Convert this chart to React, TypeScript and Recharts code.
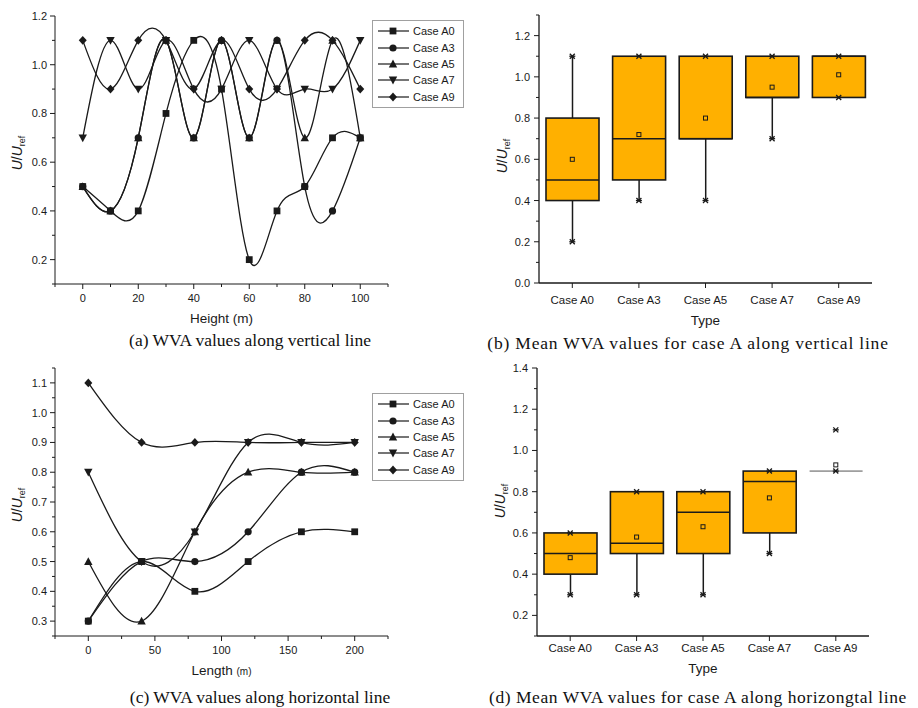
import { ComposedChart, LineChart, Line, Bar, Scatter, XAxis, YAxis, Legend } from "recharts";

const sans = "'Liberation Sans', Arial, sans-serif";
const serif = "'Liberation Serif', 'Times New Roman', serif";
const ink = "#1a1a1a";
const boxFill = "#FFB000";

const caseKeys = ["A0", "A3", "A5", "A7", "A9"];
const caseNames = ["Case A0", "Case A3", "Case A5", "Case A7", "Case A9"];
const markerKinds = ["square", "circle", "triangleUp", "triangleDown", "diamond"];

// (a) WVA along the vertical line
const heights = [0, 10, 20, 30, 40, 50, 60, 70, 80, 90, 100];
const verticalA0 = [0.5, 0.4, 0.4, 0.8, 1.1, 0.9, 0.2, 0.4, 0.5, 0.7, 0.7];
const verticalA3 = [0.5, 0.4, 0.7, 1.1, 0.7, 1.1, 0.7, 1.1, 0.5, 0.4, 0.7];
const verticalA5 = [0.5, 0.4, 0.7, 1.1, 0.7, 1.1, 0.7, 1.1, 0.7, 1.1, 0.7];
const verticalA7 = [0.7, 1.1, 0.9, 1.1, 0.9, 0.9, 1.1, 0.9, 0.9, 0.9, 1.1];
const verticalA9 = [1.1, 0.9, 1.1, 1.1, 0.9, 1.1, 0.9, 0.9, 1.1, 1.1, 0.9];
const heightTicks = [-10, 0, 10, 20, 30, 40, 50, 60, 70, 80, 90, 100, 110];
const verticalYTicks = [0.1, 0.2, 0.3, 0.4, 0.5, 0.6, 0.7, 0.8, 0.9, 1.0, 1.1, 1.2];

// (c) WVA along the horizontal line
const lengths = [0, 40, 80, 120, 160, 200];
const horizontalA0 = [0.3, 0.5, 0.4, 0.5, 0.6, 0.6];
const horizontalA3 = [0.3, 0.5, 0.5, 0.6, 0.8, 0.8];
const horizontalA5 = [0.5, 0.3, 0.6, 0.8, 0.8, 0.8];
const horizontalA7 = [0.8, 0.5, 0.6, 0.9, 0.9, 0.9];
const horizontalA9 = [1.1, 0.9, 0.9, 0.9, 0.9, 0.9];
const lengthTicks = [-25, 0, 25, 50, 75, 100, 125, 150, 175, 200, 225];
const horizontalYTicks = [0.25, 0.3, 0.35, 0.4, 0.45, 0.5, 0.55, 0.6, 0.65, 0.7, 0.75, 0.8, 0.85, 0.9, 0.95, 1.0, 1.05, 1.1, 1.15];

// (b) box statistics, vertical line
const vMin = [0.2, 0.4, 0.4, 0.7, 0.9];
const vQ1 = [0.4, 0.5, 0.7, 0.9, 0.9];
const vMedian = [0.5, 0.7, 0.7, 0.9, 1.1];
const vQ3 = [0.8, 1.1, 1.1, 1.1, 1.1];
const vMax = [1.1, 1.1, 1.1, 1.1, 1.1];
const vWhiskerHigh = [1.1, 1.1, 1.1, 1.1, 1.1];
const vMean = [0.6, 0.72, 0.8, 0.95, 1.01];
const vBoxTicks = [0, 0.1, 0.2, 0.3, 0.4, 0.5, 0.6, 0.7, 0.8, 0.9, 1.0, 1.1, 1.2, 1.3];

// (d) box statistics, horizontal line
const hMin = [0.3, 0.3, 0.3, 0.5, 0.9];
const hQ1 = [0.4, 0.5, 0.5, 0.6, 0.9];
const hMedian = [0.5, 0.55, 0.7, 0.85, 0.9];
const hQ3 = [0.6, 0.8, 0.8, 0.9, 0.9];
const hMax = [0.6, 0.8, 0.8, 0.9, 1.1];
const hWhiskerHigh = [0.6, 0.8, 0.8, 0.9, 0.9];
const hMean = [0.48, 0.58, 0.63, 0.77, 0.93];
const hBoxTicks = [0.1, 0.2, 0.3, 0.4, 0.5, 0.6, 0.7, 0.8, 0.9, 1.0, 1.1, 1.2, 1.3, 1.4];

function toRows(xs: number[], series: number[][]) {
  return xs.map((x, i) => {
    const row: Record<string, number> = { x };
    caseKeys.forEach((k, j) => (row[k] = series[j][i]));
    return row;
  });
}

function toBoxRows(min: number[], q1: number[], med: number[], q3: number[], max: number[], wHigh: number[], mean: number[]) {
  return caseNames.map((name, i) => ({
    name,
    min: min[i],
    q1: q1[i],
    median: med[i],
    q3: q3[i],
    max: max[i],
    whiskerHigh: wHigh[i],
    mean: mean[i],
  }));
}

const verticalRows = toRows(heights, [verticalA0, verticalA3, verticalA5, verticalA7, verticalA9]);
const horizontalRows = toRows(lengths, [horizontalA0, horizontalA3, horizontalA5, horizontalA7, horizontalA9]);
const verticalBoxes = toBoxRows(vMin, vQ1, vMedian, vQ3, vMax, vWhiskerHigh, vMean);
const horizontalBoxes = toBoxRows(hMin, hQ1, hMedian, hQ3, hMax, hWhiskerHigh, hMean);

function Marker({ kind, cx, cy }: { kind: string; cx: number; cy: number }) {
  const s = 3.4;
  switch (kind) {
    case "square":
      return <rect x={cx - s} y={cy - s} width={2 * s} height={2 * s} fill={ink} />;
    case "circle":
      return <circle cx={cx} cy={cy} r={s + 0.2} fill={ink} />;
    case "triangleUp":
      return <polygon points={`${cx},${cy - s - 1} ${cx + s + 0.8},${cy + s} ${cx - s - 0.8},${cy + s}`} fill={ink} />;
    case "triangleDown":
      return <polygon points={`${cx},${cy + s + 1} ${cx + s + 0.8},${cy - s} ${cx - s - 0.8},${cy - s}`} fill={ink} />;
    default:
      return <polygon points={`${cx},${cy - s - 1} ${cx + s + 0.6},${cy} ${cx},${cy + s + 1} ${cx - s - 0.6},${cy}`} fill={ink} />;
  }
}

function CaseLegend({ payload }: any) {
  return (
    <div style={{ border: "1px solid #a0a0a0", background: "#fff", width: 92, padding: "2px 0", boxSizing: "border-box" }}>
      {(payload || []).map((p: any) => {
        const kind = markerKinds[caseNames.indexOf(p.value)];
        return (
          <div key={p.value} style={{ display: "flex", alignItems: "center", height: 16.4 }}>
            <svg width={40} height={14} style={{ flex: "none" }}>
              <line x1={5} x2={36} y1={7} y2={7} stroke={ink} strokeWidth={1.2} />
              <Marker kind={kind} cx={20} cy={7} />
            </svg>
            <span style={{ fontFamily: sans, fontSize: 11, color: ink, whiteSpace: "nowrap" }}>{p.value}</span>
          </div>
        );
      })}
    </div>
  );
}

function makeYTick(isMajor: (v: number) => boolean, gap: number) {
  return (props: any) => {
    const { x, y, payload } = props;
    const major = isMajor(payload.value);
    return (
      <g>
        <line x1={x} x2={x - (major ? 5 : 3)} y1={y} y2={y} stroke={ink} />
        {major && (
          <text x={x - gap} y={y + 4} textAnchor="end" fontFamily={sans} fontSize={11} fill={ink}>
            {payload.value.toFixed(1)}
          </text>
        )}
      </g>
    );
  };
}

function makeXTick(isMajor: (v: any) => boolean, drop: number, fontSize: number) {
  return (props: any) => {
    const { x, y, payload } = props;
    const major = isMajor(payload.value);
    return (
      <g>
        <line x1={x} x2={x} y1={y} y2={y + (major ? 5 : 3)} stroke={ink} />
        {major && (
          <text x={x} y={y + drop} textAnchor="middle" fontFamily={sans} fontSize={fontSize} fill={ink}>
            {payload.value}
          </text>
        )}
      </g>
    );
  };
}

function YTitle({ viewBox, dx, dy }: any) {
  const cx = viewBox.x + dx;
  const cy = viewBox.y + viewBox.height / 2 + dy;
  return (
    <text x={cx} y={cy} transform={`rotate(-90 ${cx} ${cy})`} textAnchor="middle" fontFamily={sans} fontSize={14} fill={ink}>
      <tspan fontStyle="italic">U</tspan>
      <tspan>/</tspan>
      <tspan fontStyle="italic">U</tspan>
      <tspan fontSize={9} dy={3}>ref</tspan>
    </text>
  );
}

function XTitle({ viewBox, dy, text, unit }: any) {
  return (
    <text x={viewBox.x + viewBox.width / 2} y={viewBox.y + dy} textAnchor="middle" fontFamily={sans} fontSize={13.5} fill={ink}>
      {text}
      {unit && <tspan fontSize={10}>{unit}</tspan>}
    </text>
  );
}

function BoxShape(props: any) {
  const { x, y, width, height, payload } = props;
  const { min, max, q1, q3, median, whiskerHigh } = payload;
  const top = Math.min(y, y + height);
  const k = Math.abs(height) / (max - min);
  const py = (v: number) => top + (max - v) * k;
  const cx = x + width / 2;
  return (
    <g>
      {min < q1 && <line x1={cx} x2={cx} y1={py(min)} y2={py(q1)} stroke={ink} strokeWidth={1.5} />}
      {whiskerHigh > q3 && <line x1={cx} x2={cx} y1={py(whiskerHigh)} y2={py(q3)} stroke={ink} strokeWidth={1.5} />}
      {q3 > q1 && <rect x={x} y={py(q3)} width={width} height={py(q1) - py(q3)} fill={boxFill} stroke={ink} strokeWidth={1.6} />}
      <line x1={x} x2={x + width} y1={py(median)} y2={py(median)} stroke={q3 > q1 ? ink : "#555"} strokeWidth={q3 > q1 ? 1.5 : 1} />
    </g>
  );
}

function Extreme({ cx, cy }: any) {
  return (
    <g stroke={ink} strokeWidth={1.3}>
      <line x1={cx - 2.5} y1={cy - 2.5} x2={cx + 2.5} y2={cy + 2.5} />
      <line x1={cx - 2.5} y1={cy + 2.5} x2={cx + 2.5} y2={cy - 2.5} />
      <line x1={cx - 3} y1={cy} x2={cx + 3} y2={cy} />
    </g>
  );
}

function MeanMark({ cx, cy }: any) {
  return <rect x={cx - 2} y={cy - 2} width={4} height={4} fill="none" stroke={ink} strokeWidth={1} />;
}

function LinePanel(props: {
  rows: Record<string, number>[];
  xDomain: number[];
  xTicks: number[];
  xMajor: (v: number) => boolean;
  yDomain: number[];
  yTicks: number[];
  yMajor: (v: number) => boolean;
  top: number;
  xAxisHeight: number;
  xTitle: string;
  xUnit: string;
  legendTop: number;
  yTitleDy: number;
}) {
  return (
    <LineChart width={460} height={330} data={props.rows} margin={{ top: props.top, right: 72, bottom: 0, left: 0 }}>
      <XAxis
        type="number"
        dataKey="x"
        domain={props.xDomain}
        ticks={props.xTicks}
        interval={0}
        tickSize={0}
        tickMargin={0}
        tickLine={false}
        axisLine={{ stroke: ink }}
        tick={makeXTick(props.xMajor, 18, 11)}
        height={props.xAxisHeight}
        label={<XTitle dy={39} text={props.xTitle} unit={props.xUnit} />}
      />
      <YAxis
        type="number"
        domain={props.yDomain}
        ticks={props.yTicks}
        interval={0}
        tickSize={0}
        tickMargin={0}
        tickLine={false}
        axisLine={{ stroke: ink }}
        tick={makeYTick(props.yMajor, 8)}
        width={55}
        label={<YTitle dx={22} dy={props.yTitleDy} />}
      />
      <Legend
        layout="vertical"
        align="center"
        verticalAlign="middle"
        wrapperStyle={{ left: 372, top: props.legendTop, width: 92 }}
        content={<CaseLegend />}
      />
      {caseKeys.map((key, i) => (
        <Line
          key={key}
          dataKey={key}
          name={caseNames[i]}
          type="natural"
          stroke={ink}
          strokeWidth={1.3}
          isAnimationActive={false}
          activeDot={false}
          dot={(p: any) => <Marker key={`${key}-${p.index}`} kind={markerKinds[i]} cx={p.cx} cy={p.cy} />}
        />
      ))}
    </LineChart>
  );
}

function BoxPanel(props: {
  rows: any[];
  yDomain: number[];
  yTicks: number[];
  top: number;
  right: number;
  yAxisWidth: number;
  xAxisHeight: number;
  tickDrop: number;
  titleDy: number;
  yTitleDx: number;
  yTitleDy: number;
}) {
  const major = (v: number) => Math.round(v * 10) % 2 === 0;
  return (
    <ComposedChart width={458} height={330} data={props.rows} margin={{ top: props.top, right: props.right, bottom: 0, left: 0 }}>
      <XAxis
        type="category"
        dataKey="name"
        interval={0}
        tickSize={0}
        tickMargin={0}
        tickLine={false}
        axisLine={{ stroke: ink, strokeWidth: 1.3 }}
        tick={makeXTick(() => true, props.tickDrop, 11.5)}
        height={props.xAxisHeight}
        label={<XTitle dy={props.titleDy} text="Type" />}
      />
      <YAxis
        type="number"
        domain={props.yDomain}
        ticks={props.yTicks}
        interval={0}
        tickSize={0}
        tickMargin={0}
        tickLine={false}
        axisLine={{ stroke: ink, strokeWidth: 1.3 }}
        tick={makeYTick(major, 9)}
        width={props.yAxisWidth}
        label={<YTitle dx={props.yTitleDx} dy={props.yTitleDy} />}
      />
      <Bar dataKey={(d: any) => [d.min, d.max]} barSize={53} shape={BoxShape} isAnimationActive={false} />
      <Scatter dataKey="max" shape={Extreme} isAnimationActive={false} />
      <Scatter dataKey="min" shape={Extreme} isAnimationActive={false} />
      <Scatter dataKey="mean" shape={MeanMark} isAnimationActive={false} />
    </ComposedChart>
  );
}

function Caption({ text, left, top, width, align, spacing }: { text: string; left: number; top: number; width: number; align: "center" | "left"; spacing: number }) {
  return (
    <div
      style={{
        position: "absolute",
        left,
        top,
        width,
        textAlign: align,
        fontFamily: serif,
        fontSize: 17.5,
        letterSpacing: spacing,
        lineHeight: "20px",
        color: "#111",
        whiteSpace: "nowrap",
      }}
    >
      {text}
    </div>
  );
}

export default function App() {
  const tenthMajor = (v: number) => Math.round(v * 10) % 2 === 0;
  return (
    <div style={{ position: "absolute", left: 0, top: 0, width: 918, height: 708, background: "#fff", overflow: "hidden" }}>
      <div style={{ position: "absolute", left: 0, top: 0 }}>
        <LinePanel
          rows={verticalRows}
          xDomain={[-10, 110]}
          xTicks={heightTicks}
          xMajor={(v) => v % 20 === 0}
          yDomain={[0.1, 1.2]}
          yTicks={verticalYTicks}
          yMajor={tenthMajor}
          top={16}
          xAxisHeight={46}
          xTitle="Height (m)"
          xUnit=""
          legendTop={20}
          yTitleDy={3}
        />
      </div>
      <div style={{ position: "absolute", left: 460, top: 0 }}>
        <BoxPanel
          rows={verticalBoxes}
          yDomain={[0, 1.3]}
          yTicks={vBoxTicks}
          top={15}
          right={46}
          yAxisWidth={79}
          xAxisHeight={47}
          tickDrop={21}
          titleDy={42}
          yTitleDx={47}
          yTitleDy={7}
        />
      </div>
      <div style={{ position: "absolute", left: 0, top: 360 }}>
        <LinePanel
          rows={horizontalRows}
          xDomain={[-25, 225]}
          xTicks={lengthTicks}
          xMajor={(v) => v % 50 === 0}
          yDomain={[0.25, 1.15]}
          yTicks={horizontalYTicks}
          yMajor={(v) => Math.round(v * 100) % 10 === 0}
          top={8}
          xAxisHeight={54}
          xTitle="Length "
          xUnit="(m)"
          legendTop={33}
          yTitleDy={3}
        />
      </div>
      <div style={{ position: "absolute", left: 460, top: 360 }}>
        <BoxPanel
          rows={horizontalBoxes}
          yDomain={[0.1, 1.4]}
          yTicks={hBoxTicks}
          top={8}
          right={49}
          yAxisWidth={77}
          xAxisHeight={54}
          tickDrop={16}
          titleDy={37}
          yTitleDx={45}
          yTitleDy={-1}
        />
      </div>
      <Caption text="(a) WVA values along vertical line" left={100} top={330} width={300} align="center" spacing={0} />
      <Caption text="(b) Mean WVA values for case A along vertical line" left={468} top={333} width={440} align="center" spacing={0.8} />
      <Caption text="(c) WVA values along horizontal line" left={100} top={687} width={320} align="center" spacing={0} />
      <Caption text="(d) Mean WVA values for case A along horizongtal line" left={489} top={687} width={428} align="left" spacing={0.55} />
    </div>
  );
}
